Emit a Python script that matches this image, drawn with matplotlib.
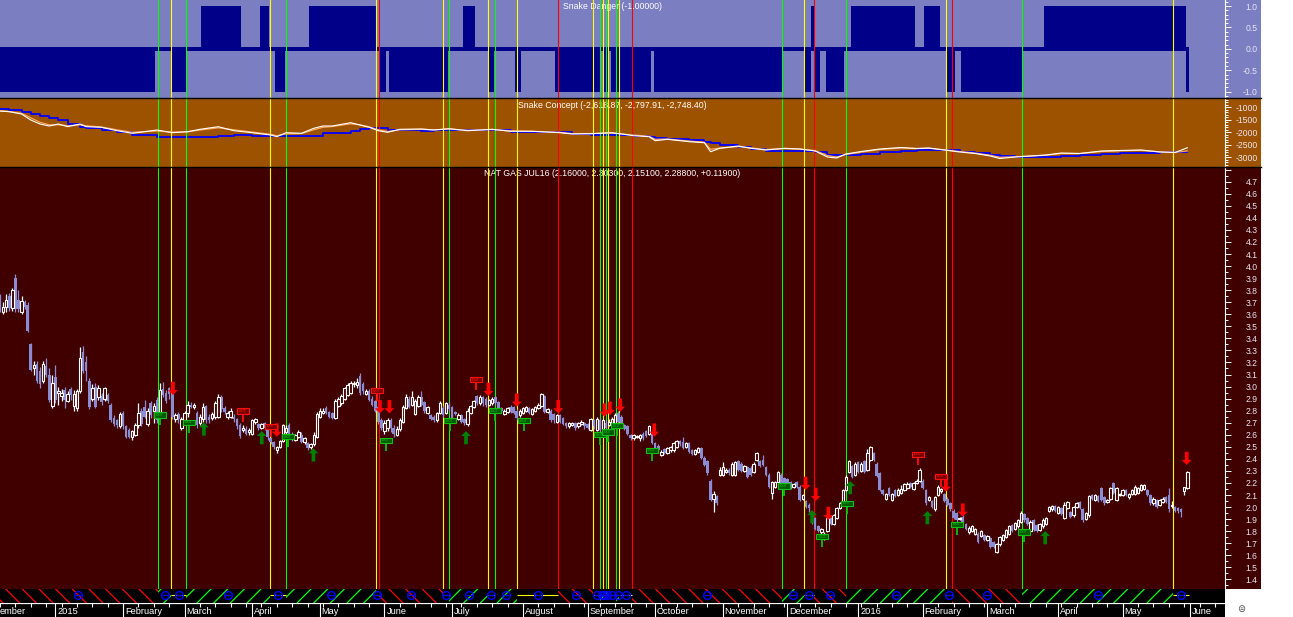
import numpy as np
import pandas as pd
import matplotlib
matplotlib.use('Agg')
import matplotlib.pyplot as plt
from matplotlib.patches import Rectangle, Polygon
from matplotlib.lines import Line2D

plt.rcParams['font.family'] = ['Liberation Sans', 'DejaVu Sans']
plt.rcParams['hatch.linewidth'] = 0.9

# ---------------- data ----------------
dates = pd.bdate_range('2014-12-08', '2016-05-31')

opens = [3.74,3.62,3.66,3.75,3.65,3.90,3.72,3.62,3.70,3.68,
 3.35,3.15,3.19,3.13,3.05,3.17,3.10,2.84,3.08,2.95,
 2.92,2.97,2.88,2.98,2.84,2.82,2.96,3.29,3.20,3.05,
 2.90,3.00,2.91,2.92,2.90,2.93,2.85,2.74,2.72,2.67,
 2.78,2.67,2.64,2.58,2.60,2.68,2.80,2.83,2.69,2.86,
 2.80,2.89,2.79,2.98,2.95,2.99,2.94,2.73,2.77,2.66,
 2.72,2.78,2.85,2.83,2.78,2.70,2.73,2.84,2.75,2.74,
 2.75,2.75,2.91,2.82,2.75,2.75,2.75,2.73,2.68,2.64,
 2.65,2.62,2.61,2.71,2.69,2.66,2.70,2.66,2.57,2.54,
 2.47,2.50,2.55,2.62,2.68,2.61,2.56,2.58,2.60,2.54,
 2.53,2.50,2.52,2.58,2.75,2.78,2.82,2.79,2.78,2.74,
 2.84,2.86,2.90,2.93,2.95,3.02,3.01,3.09,3.02,2.94,
 2.96,2.90,2.88,2.83,2.72,2.63,2.66,2.72,2.66,2.60,
 2.65,2.71,2.82,2.90,2.85,2.77,2.84,2.91,2.87,2.78,
 2.76,2.75,2.72,2.78,2.82,2.78,2.85,2.83,2.79,2.73,
 2.76,2.73,2.69,2.78,2.83,2.92,2.86,2.91,2.90,2.85,
 2.86,2.91,2.87,2.82,2.77,2.79,2.83,2.83,2.80,2.76,
 2.78,2.80,2.82,2.77,2.80,2.82,2.84,2.92,2.79,2.80,
 2.77,2.71,2.76,2.74,2.70,2.67,2.68,2.70,2.67,2.69,
 2.70,2.69,2.64,2.72,2.64,2.72,2.65,2.70,2.68,2.70,
 2.70,2.78,2.75,2.68,2.67,2.60,2.57,2.58,2.57,2.61,
 2.63,2.61,2.61,2.53,2.51,2.43,2.48,2.45,2.47,2.47,
 2.50,2.55,2.54,2.50,2.53,2.47,2.44,2.46,2.49,2.41,
 2.38,2.22,2.07,2.09,2.27,2.27,2.29,2.31,2.27,2.27,
 2.38,2.36,2.30,2.33,2.32,2.29,2.39,2.38,2.39,2.33,
 2.27,2.12,2.17,2.21,2.27,2.24,2.23,2.21,2.17,2.21,
 2.17,2.07,2.05,2.02,1.92,1.91,1.84,1.79,1.75,1.80,
 1.91,1.86,1.91,1.99,2.03,2.14,2.29,2.34,2.27,2.37,
 2.30,2.38,2.31,2.39,2.45,2.36,2.28,2.14,2.07,2.16,
 2.06,2.14,2.10,2.12,2.14,2.16,2.20,2.15,2.20,2.22,
 2.22,2.14,2.06,2.05,1.98,2.10,2.13,2.11,2.07,2.03,
 1.97,1.95,1.90,1.92,1.86,1.79,1.80,1.78,1.78,1.76,
 1.77,1.73,1.74,1.71,1.63,1.69,1.73,1.75,1.78,1.85,
 1.82,1.84,1.88,1.94,1.91,1.80,1.89,1.85,1.81,1.84,
 1.86,1.97,1.98,2.01,1.95,1.99,1.91,1.99,1.96,1.93,
 2.00,2.04,1.98,1.90,1.93,2.10,2.06,2.09,2.16,2.08,
 2.04,2.07,2.20,2.06,2.10,2.10,2.14,2.08,2.11,2.11,
 2.12,2.14,2.15,2.14,2.10,2.03,2.06,2.02,2.04,2.08,
 2.10,2.01,2.00,1.99,1.98,2.13,2.16]

highs = [3.77,3.70,3.77,3.78,3.82,3.93,3.80,3.75,3.72,3.70,
 3.36,3.21,3.21,3.16,3.21,3.24,3.15,3.10,3.18,3.00,
 2.98,3.00,2.96,3.00,2.97,2.98,3.33,3.34,3.25,3.07,
 3.02,3.03,3.01,2.95,3.00,2.95,2.86,2.76,2.73,2.79,
 2.80,2.68,2.66,2.64,2.70,2.86,2.82,2.89,2.82,2.88,
 2.86,2.91,3.03,3.04,2.97,3.00,2.95,2.78,2.79,2.75,
 2.80,2.88,2.87,2.86,2.80,2.77,2.86,2.85,2.77,2.79,
 2.88,2.94,2.93,2.84,2.80,2.82,2.77,2.74,2.70,2.68,
 2.67,2.66,2.73,2.74,2.70,2.70,2.71,2.67,2.58,2.55,
 2.51,2.56,2.69,2.68,2.70,2.62,2.61,2.64,2.62,2.58,
 2.54,2.53,2.62,2.79,2.82,2.82,2.84,2.80,2.79,2.90,
 2.91,2.94,3.00,3.03,3.05,3.05,3.07,3.11,3.04,2.98,
 2.98,2.92,2.89,2.84,2.74,2.72,2.74,2.74,2.68,2.67,
 2.74,2.85,2.94,2.92,2.96,2.90,2.93,2.96,2.88,2.84,
 2.77,2.76,2.79,2.88,2.84,2.87,2.87,2.84,2.80,2.78,
 2.77,2.74,2.82,2.85,2.89,2.93,2.93,2.92,2.91,2.90,
 2.91,2.92,2.88,2.83,2.81,2.83,2.85,2.84,2.81,2.81,
 2.83,2.84,2.83,2.82,2.84,2.86,2.95,2.93,2.82,2.81,
 2.78,2.77,2.77,2.75,2.71,2.71,2.71,2.71,2.71,2.72,
 2.71,2.70,2.74,2.73,2.75,2.74,2.73,2.72,2.73,2.75,
 2.78,2.80,2.76,2.69,2.68,2.61,2.61,2.60,2.61,2.62,
 2.64,2.68,2.62,2.54,2.52,2.47,2.49,2.50,2.51,2.54,
 2.56,2.56,2.58,2.54,2.54,2.48,2.48,2.50,2.50,2.42,
 2.39,2.23,2.13,2.10,2.33,2.37,2.32,2.32,2.37,2.38,
 2.39,2.37,2.35,2.34,2.34,2.37,2.46,2.39,2.43,2.34,
 2.28,2.22,2.22,2.30,2.28,2.25,2.24,2.22,2.20,2.22,
 2.18,2.11,2.06,2.03,1.93,1.92,1.85,1.83,1.79,1.92,
 1.92,1.94,2.00,2.04,2.15,2.27,2.39,2.35,2.37,2.38,
 2.37,2.39,2.48,2.51,2.46,2.37,2.29,2.15,2.12,2.17,
 2.12,2.15,2.16,2.18,2.20,2.21,2.21,2.21,2.23,2.32,
 2.23,2.15,2.09,2.06,2.09,2.18,2.16,2.12,2.08,2.04,
 1.98,1.96,1.92,1.93,1.87,1.84,1.85,1.83,1.79,1.81,
 1.78,1.77,1.75,1.72,1.70,1.76,1.78,1.82,1.85,1.86,
 1.88,1.90,1.97,1.95,1.92,1.89,1.90,1.86,1.87,1.91,
 1.92,2.01,2.02,2.02,2.01,2.00,2.04,2.05,1.97,2.01,
 2.04,2.05,1.99,1.96,2.10,2.11,2.11,2.10,2.17,2.09,
 2.07,2.17,2.21,2.17,2.12,2.15,2.15,2.12,2.15,2.18,
 2.17,2.19,2.19,2.15,2.11,2.08,2.07,2.07,2.08,2.09,
 2.16,2.05,2.01,2.00,1.99,2.17,2.303]

lows = [3.62,3.60,3.62,3.63,3.63,3.62,3.62,3.60,3.64,3.45,
 3.13,3.10,3.03,2.99,3.03,3.08,2.87,2.82,2.86,2.85,
 2.88,2.82,2.87,2.89,2.80,2.80,2.95,3.11,3.05,2.81,
 2.88,2.82,2.89,2.85,2.88,2.86,2.71,2.67,2.66,2.66,
 2.65,2.57,2.57,2.56,2.59,2.66,2.67,2.74,2.67,2.74,
 2.70,2.70,2.77,2.91,2.86,2.90,2.73,2.71,2.70,2.64,
 2.70,2.75,2.82,2.81,2.66,2.68,2.71,2.70,2.70,2.72,
 2.73,2.74,2.79,2.77,2.73,2.74,2.71,2.65,2.57,2.62,
 2.60,2.60,2.60,2.69,2.64,2.65,2.64,2.56,2.52,2.48,
 2.45,2.49,2.54,2.60,2.60,2.55,2.55,2.57,2.53,2.52,
 2.47,2.48,2.51,2.57,2.74,2.77,2.77,2.74,2.73,2.73,
 2.83,2.85,2.89,2.92,2.94,3.00,2.99,2.93,2.94,2.93,
 2.88,2.84,2.79,2.69,2.64,2.61,2.63,2.62,2.58,2.59,
 2.63,2.70,2.81,2.82,2.84,2.76,2.83,2.84,2.78,2.77,
 2.72,2.71,2.71,2.77,2.75,2.77,2.80,2.73,2.76,2.72,
 2.70,2.68,2.67,2.77,2.82,2.85,2.85,2.84,2.83,2.84,
 2.85,2.85,2.81,2.79,2.76,2.78,2.78,2.77,2.72,2.75,
 2.77,2.79,2.77,2.76,2.79,2.81,2.83,2.78,2.78,2.71,
 2.70,2.70,2.70,2.68,2.66,2.66,2.67,2.64,2.66,2.68,
 2.65,2.65,2.63,2.65,2.63,2.63,2.64,2.65,2.67,2.69,
 2.69,2.70,2.67,2.64,2.60,2.56,2.56,2.57,2.55,2.56,
 2.58,2.60,2.52,2.48,2.45,2.42,2.44,2.44,2.46,2.46,
 2.49,2.51,2.48,2.49,2.45,2.43,2.43,2.45,2.40,2.34,
 2.27,2.05,1.96,2.02,2.26,2.26,2.28,2.27,2.26,2.26,
 2.30,2.29,2.29,2.24,2.26,2.28,2.38,2.33,2.34,2.26,
 2.16,2.07,2.16,2.20,2.19,2.19,2.16,2.15,2.16,2.16,
 2.05,2.06,1.99,1.96,1.86,1.81,1.79,1.78,1.73,1.79,
 1.85,1.85,1.90,1.98,2.02,2.13,2.28,2.24,2.26,2.28,
 2.29,2.28,2.30,2.38,2.38,2.25,2.13,2.10,2.06,2.09,
 2.05,2.08,2.09,2.11,2.13,2.15,2.16,2.14,2.19,2.21,
 2.15,2.02,2.05,1.99,1.97,2.09,2.12,2.04,2.01,1.97,
 1.90,1.88,1.89,1.87,1.81,1.78,1.79,1.77,1.70,1.75,
 1.72,1.72,1.66,1.66,1.62,1.68,1.72,1.74,1.77,1.79,
 1.81,1.83,1.87,1.88,1.85,1.79,1.80,1.79,1.80,1.83,
 1.85,1.96,1.97,1.96,1.94,1.93,1.90,1.98,1.91,1.92,
 1.99,1.98,1.88,1.89,1.92,2.06,2.05,2.04,2.05,2.02,
 2.03,2.06,2.11,2.05,2.09,2.09,2.09,2.07,2.10,2.10,
 2.11,2.13,2.14,2.09,2.02,2.02,1.99,2.01,2.03,2.03,
 1.96,1.99,1.96,1.95,1.92,2.10,2.151]

closes = [3.64,3.66,3.72,3.65,3.80,3.64,3.64,3.71,3.66,3.46,
 3.14,3.18,3.05,3.02,3.19,3.10,2.89,3.03,2.89,2.96,
 2.95,2.89,2.94,2.93,2.94,2.96,3.24,3.13,3.13,2.83,
 2.99,2.83,2.99,2.87,2.99,2.88,2.72,2.69,2.68,2.77,
 2.67,2.58,2.58,2.63,2.68,2.78,2.69,2.75,2.80,2.76,
 2.84,2.72,2.97,2.93,2.88,2.94,2.75,2.76,2.73,2.73,
 2.78,2.85,2.83,2.85,2.68,2.75,2.83,2.72,2.72,2.77,
 2.86,2.91,2.81,2.79,2.78,2.80,2.73,2.67,2.59,2.66,
 2.61,2.64,2.72,2.73,2.66,2.69,2.66,2.58,2.54,2.50,
 2.50,2.55,2.68,2.66,2.61,2.56,2.60,2.62,2.54,2.57,
 2.49,2.52,2.60,2.77,2.80,2.80,2.78,2.75,2.74,2.88,
 2.90,2.92,2.99,3.01,3.03,3.03,3.04,2.95,2.96,2.96,
 2.89,2.85,2.80,2.71,2.66,2.70,2.72,2.66,2.61,2.65,
 2.72,2.83,2.91,2.83,2.91,2.88,2.91,2.85,2.80,2.83,
 2.73,2.72,2.78,2.86,2.76,2.86,2.81,2.74,2.77,2.76,
 2.71,2.70,2.80,2.84,2.88,2.86,2.91,2.86,2.85,2.89,
 2.90,2.86,2.82,2.80,2.80,2.82,2.79,2.78,2.74,2.80,
 2.82,2.83,2.78,2.81,2.83,2.85,2.94,2.79,2.81,2.72,
 2.72,2.76,2.71,2.69,2.67,2.70,2.70,2.66,2.70,2.71,
 2.67,2.66,2.73,2.67,2.73,2.64,2.72,2.66,2.71,2.73,
 2.76,2.71,2.68,2.65,2.61,2.57,2.60,2.59,2.60,2.57,
 2.59,2.67,2.53,2.49,2.47,2.46,2.45,2.49,2.50,2.53,
 2.55,2.52,2.49,2.53,2.46,2.44,2.47,2.49,2.41,2.35,
 2.28,2.06,2.11,2.03,2.31,2.33,2.31,2.28,2.36,2.37,
 2.31,2.30,2.34,2.25,2.27,2.36,2.45,2.34,2.35,2.27,
 2.17,2.21,2.21,2.29,2.20,2.20,2.17,2.16,2.19,2.17,
 2.06,2.10,2.00,1.99,1.87,1.82,1.80,1.82,1.78,1.91,
 1.86,1.93,1.99,2.03,2.14,2.25,2.38,2.25,2.36,2.29,
 2.36,2.29,2.45,2.50,2.39,2.26,2.14,2.11,2.11,2.10,
 2.11,2.09,2.14,2.15,2.19,2.19,2.17,2.20,2.22,2.31,
 2.16,2.03,2.08,2.00,2.08,2.17,2.15,2.05,2.02,1.98,
 1.91,1.89,1.91,1.88,1.82,1.83,1.84,1.82,1.71,1.80,
 1.73,1.76,1.67,1.67,1.69,1.75,1.77,1.81,1.84,1.80,
 1.87,1.89,1.95,1.89,1.86,1.88,1.81,1.80,1.86,1.89,
 1.91,2.00,2.01,1.97,2.00,1.94,2.02,2.04,1.92,2.00,
 2.03,1.99,1.89,1.95,2.09,2.07,2.10,2.05,2.06,2.03,
 2.06,2.16,2.12,2.16,2.11,2.14,2.10,2.11,2.14,2.17,
 2.16,2.18,2.18,2.10,2.03,2.07,2.00,2.06,2.07,2.04,
 1.98,2.02,1.97,1.97,1.96,2.169,2.288]

# Snake Danger state (-1 / 0 / +1), run-length encoded in bar order
danger_values = [-1,0,-1,0,1,0,1,0,-1,0,1,0,-1,0,-1,0,1,0,-1,0,-1,0,-1,
                 0,-1,0,-1,0,-1,0,-1,1,-1,0,-1,0,1,0,1,0,-1,0,-1,0,1,-1]
danger_counts = [51,5,5,5,13,6,3,2,3,8,22,1,2,1,19,5,4,4,2,7,2,11,15,
                 1,1,1,13,1,42,7,2,1,2,2,6,2,21,3,5,2,3,2,20,7,46,1]

# Snake Concept lines (sampled by bar index)
concept_idx = [0,3,7,10,13,16,19,22,26,28,33,38,43,51,56,61,65,71,76,82,
               88,90,93,98,102,105,108,114,117,120,123,126,130,137,141,146,152,160,166,173,
               182,186,192,199,206,211,213,217,224,229,231,234,240,244,249,255,260,265,269,272,
               275,280,286,293,298,302,307,312,317,322,325,330,335,340,345,351,358,364,371,377,
               382,386]
concept_fast = [-1148,-1176,-1268,-1508,-1668,-1748,-1668,-1776,-1668,-1776,
                -1800,-1936,-2040,-1908,-2016,-1976,-1880,-1776,-1936,-2016,
                -2108,-2176,-2016,-2040,-1840,-1748,-1748,-1616,-1708,-1800,
                -1936,-2000,-1880,-1868,-1908,-1856,-1936,-1880,-1960,-1960,
                -2016,-2068,-2056,-2016,-2136,-2176,-2336,-2280,-2376,-2416,
                -2776,-2640,-2548,-2640,-2708,-2640,-2668,-2748,-2988,-3028,
                -2868,-2768,-2668,-2608,-2648,-2628,-2708,-2788,-2848,-2948,
                -3048,-2988,-2948,-2908,-2828,-2848,-2748,-2728,-2708,-2788,
                -2808,-2618.87]
concept_slow = [-1056,-1108,-1208,-1288,-1368,-1428,-1508,-1668,-1788,-1840,
                -1908,-1988,-2108,-2176,-2200,-2200,-2200,-2148,-2120,-2148,
                -2148,-2148,-2148,-2148,-2148,-2040,-2040,-1948,-1880,-1828,
                -1840,-1908,-1908,-1936,-1928,-1908,-1920,-1920,-1976,-1988,
                -2000,-2068,-2108,-2128,-2136,-2176,-2216,-2268,-2308,-2388,
                -2440,-2528,-2608,-2680,-2736,-2760,-2760,-2788,-2908,-2928,
                -2928,-2868,-2808,-2748,-2728,-2708,-2728,-2788,-2828,-2908,
                -2948,-2988,-3008,-2988,-2948,-2908,-2868,-2848,-2828,-2808,
                -2808,-2797.91]
concept_mid = [-1150,-1170,-1240,-1420,-1600,-1700,-1700,-1740,-1700,-1740,
               -1790,-1900,-2000,-1950,-1990,-1980,-1910,-1820,-1900,-1990,
               -2080,-2140,-2060,-2050,-1900,-1800,-1770,-1660,-1700,-1780,
               -1900,-1970,-1900,-1880,-1900,-1870,-1920,-1890,-1940,-1960,
               -2000,-2050,-2050,-2030,-2110,-2160,-2280,-2270,-2350,-2400,
               -2680,-2630,-2570,-2620,-2690,-2650,-2670,-2730,-2930,-2990,
               -2890,-2790,-2690,-2630,-2650,-2640,-2700,-2770,-2830,-2920,
               -3000,-2980,-2950,-2920,-2850,-2850,-2770,-2740,-2720,-2780,
               -2800,-2748.40]

# signal lines (bar index, kind: G=green, Y=yellow, R=red)
signal_idx = [51.4,55.6,60.6,87.8,93.0,122.2,123.2,144.1,146.1,158.6,160.8,168.2,181.4,
              192.9,195.1,196.0,196.9,197.6,200.4,201.3,205.6,254.3,261.5,264.7,275.1,
              307.4,309.6,332.3,381.4]
signal_kind = ['G','Y','G','Y','G','Y','R','Y','G','Y','G','Y','R',
               'Y','G','Y','G','Y','G','Y','R','G','Y','R','G',
               'Y','R','G','Y']

flag_buy_idx = [51.9,61.4,93.5,125.5,146.3,160.9,170.4,195.1,197.7,200.6,212.0,254.9,267.3,275.4,311.1,332.9]
flag_buy_price = [2.764,2.703,2.585,2.556,2.717,2.800,2.717,2.602,2.623,2.673,2.473,2.175,1.752,2.033,1.859,1.793]
flag_sell_idx = [79.0,88.1,122.6,154.8,298.5,305.9]
flag_sell_price = [2.797,2.672,2.966,3.058,2.438,2.256]
arrow_dn_idx = [56.2,90.0,123.5,126.6,158.8,168.0,181.5,196.5,198.3,201.6,212.7,261.9,265.2,269.3,307.5,313.0,385.8]
arrow_dn_price = [2.930,2.584,2.778,2.778,2.922,2.833,2.778,2.750,2.764,2.791,2.584,2.142,2.050,1.892,2.127,1.920,2.349]
arrow_up_idx = [66.3,85.1,101.9,151.5,264.0,276.4,301.5,339.8]
arrow_up_price = [2.703,2.631,2.488,2.631,1.975,2.216,1.967,1.801]

# ---------------- style ----------------
W, H, DPI = 1293, 617, 100
LAV = '#7B7EC0'
NAVY = '#000088'
BROWN = '#9D5200'
MAROON = '#400000'
CANDLE = '#8C8CD2'
LBL = '#E6E6F4'
LINE_COL = {'G': '#00FF00', 'Y': '#FFFF00', 'R': '#FF0000'}
XMIN, XMAX = 0.0, 398.25

fig = plt.figure(figsize=(W / DPI, H / DPI), dpi=DPI)
fig.patch.set_facecolor('white')


def ax_at(x0, y0, x1, y1):
    return fig.add_axes([x0 / W, 1 - y1 / H, (x1 - x0) / W, (y1 - y0) / H])


def panel_bg(y0, y1, color, x1=1261):
    fig.add_artist(Rectangle((0, 1 - y1 / H), x1 / W, (y1 - y0) / H,
                             transform=fig.transFigure, facecolor=color,
                             edgecolor='none', zorder=-5))


panel_bg(0, 98, LAV)
panel_bg(98, 167, BROWN)
panel_bg(167, 589, MAROON)
panel_bg(589, 617, 'black', x1=1225)

top = ax_at(0, 0, 1225, 98)
mid = ax_at(0, 98, 1225, 167)
main = ax_at(0, 167, 1225, 589)
strip = ax_at(0, 589, 1225, 603)
dax = ax_at(0, 603, 1225, 617)


def style_axis(ax, bg, ylim, major, labels, minor):
    ax.set_facecolor(bg)
    ax.set_xlim(XMIN, XMAX)
    ax.set_ylim(*ylim)
    ax.set_xticks([])
    for s in ['left', 'top', 'bottom']:
        ax.spines[s].set_visible(False)
    ax.spines['right'].set_color('white')
    ax.spines['right'].set_linewidth(0.8)
    ax.yaxis.tick_right()
    ax.set_yticks(major)
    ax.set_yticklabels(labels)
    ax.set_yticks(minor, minor=True)
    ax.tick_params(axis='y', which='major', length=4.5, width=0.7, color='white',
                   labelsize=6.2, labelcolor=LBL, pad=19.0)
    ax.tick_params(axis='y', which='minor', length=2.2, width=0.7, color='white')
    for t in ax.get_yticklabels():
        t.set_horizontalalignment('right')


def bare_axis(ax):
    ax.set_facecolor('black')
    ax.set_xlim(XMIN, XMAX)
    ax.set_ylim(0, 1)
    ax.set_xticks([])
    ax.set_yticks([])
    for s in ax.spines.values():
        s.set_visible(False)


x = np.arange(len(dates))

# ---- Snake Danger ----
top_major = [-1.0, -0.5, 0.0, 0.5, 1.0]
style_axis(top, LAV, (-1.146, 1.141), top_major, ['%.1f' % v for v in top_major],
           [v / 10 for v in range(-11, 12)])
dvals = np.repeat(danger_values, danger_counts)
top.bar(x, dvals, width=1.0, color=NAVY, linewidth=0, zorder=2)
top.fill_between([x[0] - 0.5, x[-1] + 0.5], -0.05, 0.05, color=NAVY, linewidth=0, zorder=2)
top.text(0.5, 1 - 6.7 / 98, 'Snake Danger (%.5f)' % dvals[-1], transform=top.transAxes,
         ha='center', va='center', fontsize=6.3, color='white', zorder=2.5)

# ---- Snake Concept ----
mid_major = [-3000, -2500, -2000, -1500, -1000]
style_axis(mid, BROWN, (-3388, -628), mid_major, [str(v) for v in mid_major],
           list(range(-3300, -600, 100)))
mid.plot(concept_idx, concept_slow, color='#0000FF', lw=1.3, drawstyle='steps-post', zorder=3)
mid.plot(concept_idx, concept_mid, color='#FFA860', lw=0.9, zorder=4)
mid.plot(concept_idx, concept_fast, color='white', lw=0.8, zorder=5)
mid.text(0.5, 1 - 7.0 / 69, 'Snake Concept (%s, %s, %s)' % (
    format(concept_fast[-1], ',.2f'), format(concept_slow[-1], ',.2f'), format(concept_mid[-1], ',.2f')),
    transform=mid.transAxes, ha='center', va='center', fontsize=6.3, color='white', zorder=2)

# ---- main price panel ----
main_major = [v / 10 for v in range(14, 49)]
main_labels = ['%.1f' % v if v < 4.75 else '' for v in main_major]
style_axis(main, MAROON, (1.320, 4.822), main_major, main_labels,
           [v / 20 for v in range(27, 97)])
o = np.array(opens); h = np.array(highs); l = np.array(lows); c = np.array(closes)
up = c >= o
dn = ~up
main.vlines(x[up], l[up], h[up], color='white', lw=0.9, zorder=3)
main.vlines(x[dn], l[dn], h[dn], color=CANDLE, lw=0.9, zorder=3)
main.bar(x[dn], (o - c)[dn], bottom=c[dn], width=0.85, color=CANDLE, linewidth=0, zorder=4)
main.bar(x[up], np.maximum((c - o)[up], 0.008), bottom=o[up], width=0.8,
         facecolor=MAROON, edgecolor='white', linewidth=0.8, zorder=4)
chg = c[-1] - c[-2]
main.text(0.5, 1 - 6.3 / 422, 'NAT GAS JUL16 (%.5f, %.5f, %.5f, %.5f, %+.5f)' % (o[-1], h[-1], l[-1], c[-1], chg),
          transform=main.transAxes, ha='center', va='center', fontsize=6.3, color='white', zorder=2)

# signal vertical lines
for ax, z in [(top, 3), (mid, 3), (main, 2)]:
    for xi, k in zip(signal_idx, signal_kind):
        ax.axvline(xi, color=LINE_COL[k], lw=0.8, zorder=z)

# arrows
HW, SW, HH, TL = 1.6, 0.6, 0.042, 0.11
for xi, p in zip(arrow_dn_idx, arrow_dn_price):
    pts = [(xi - SW, p + TL), (xi + SW, p + TL), (xi + SW, p + HH), (xi + HW, p + HH),
           (xi, p), (xi - HW, p + HH), (xi - SW, p + HH)]
    main.add_patch(Polygon(pts, closed=True, facecolor='#FF0000', edgecolor='none', zorder=6))
for xi, p in zip(arrow_up_idx, arrow_up_price):
    pts = [(xi - SW, p - TL), (xi + SW, p - TL), (xi + SW, p - HH), (xi + HW, p - HH),
           (xi, p), (xi - HW, p - HH), (xi - SW, p - HH)]
    main.add_patch(Polygon(pts, closed=True, facecolor='#008000', edgecolor='none', zorder=6))

# flags
BW, BH, POST = 3.9, 0.042, 0.066
for xs, ps, fc, ec in [(flag_buy_idx, flag_buy_price, '#005A00', '#10C010'),
                       (flag_sell_idx, flag_sell_price, '#7A0000', '#FF1010')]:
    for xi, p in zip(xs, ps):
        main.vlines(xi, p - BH / 2 - POST, p - BH / 2, color=ec, lw=1.3, zorder=6)
        main.add_patch(Rectangle((xi - BW / 2, p - BH / 2), BW, BH, facecolor=fc,
                                 edgecolor=ec, lw=0.8, zorder=7))
        main.text(xi, p, 'EXIT', ha='center', va='center', fontsize=2.6, color=ec, zorder=8)

# ---- signal strip ----
bare_axis(strip)
seg_start = [-1.0] + signal_idx
seg_end = signal_idx + [x[-1] + 0.5]
seg_kind = ['R'] + signal_kind
for s, e, k in zip(seg_start, seg_end, seg_kind):
    if k == 'Y':
        strip.hlines(0.55, s, e, color=LINE_COL['Y'], lw=0.8, zorder=2)
    else:
        strip.add_patch(Rectangle((s, -0.2), e - s, 1.4, facecolor='black',
                                  edgecolor=LINE_COL[k], lw=0,
                                  hatch='//' if k == 'G' else '\\\\', zorder=1))
    mx = (s + e) / 2
    strip.plot([mx], [0.55], marker='o', ms=5.6, mfc='none', mec='#0000FF', mew=1.0, zorder=3)
    strip.plot([mx], [0.55], marker='_', ms=4.0, mec='#0000FF', mew=1.0, zorder=3)

# ---- date axis ----
bare_axis(dax)
ext = pd.bdate_range('2014-12-01', '2016-06-30')
offset = int(ext.get_loc(dates[0]))
epos = np.arange(len(ext)) - offset
dax.axhline(0.97, color='white', lw=0.9)
wk = epos[ext.weekday == 0]
dax.vlines(wk, 0.70, 0.97, color='white', lw=0.8)
for i in range(len(ext)):
    if i == 0 or ext[i].month != ext[i - 1].month:
        p = epos[i]
        if p > XMAX:
            continue
        lab = str(ext[i].year) if ext[i].month == 1 else ext[i].strftime('%B')
        if p < XMIN:
            # month that starts before the visible window: show only its visible tail
            lab = lab[3:]
            dax.text(XMIN, 0.36, lab, ha='left', va='center', fontsize=6.7, color='white')
            continue
        dax.vlines(p, 0.0, 0.97, color='white', lw=0.8)
        dax.text(p + 0.6, 0.36, lab, ha='left', va='center', fontsize=6.7, color='white')

# separators between panels
for yy in (98, 167):
    fig.add_artist(Line2D([0, 1261 / W], [1 - yy / H, 1 - yy / H], color='black', lw=1.0,
                          transform=fig.transFigure, zorder=5))

fig.text(1241 / W, 1 - 609 / H, '\u229c', fontsize=7, color='#505050', ha='center',
         va='center', family='DejaVu Sans')

fig.savefig('out.png', dpi=DPI)
